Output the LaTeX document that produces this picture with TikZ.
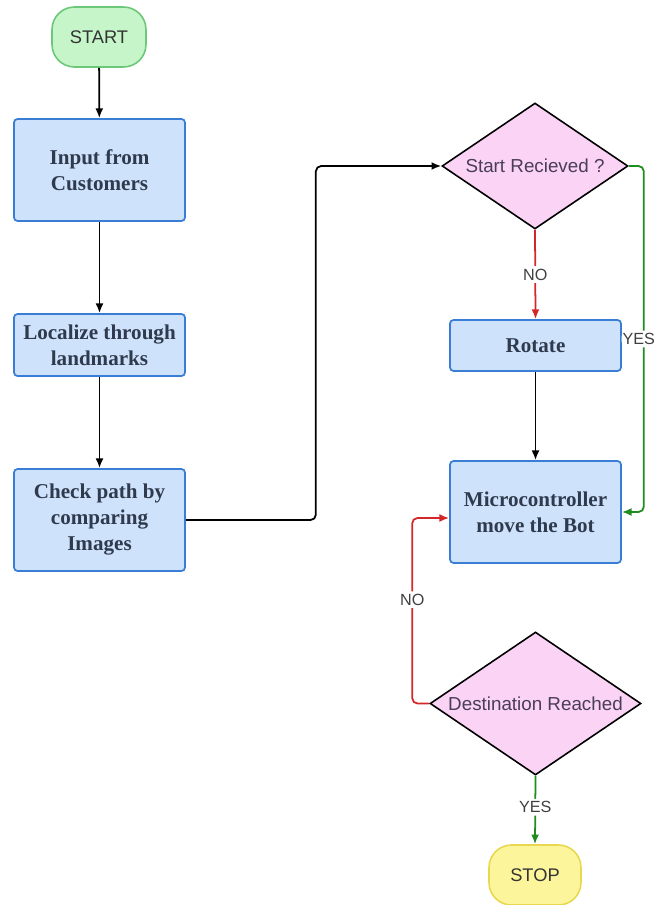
\documentclass[tikz,border=0pt]{standalone}
\usepackage{fontspec}
\setmainfont{Liberation Serif}
\setsansfont{Liberation Sans}
\usetikzlibrary{arrows.meta,shapes.geometric}
\definecolor{fcblue}{RGB}{207,226,252}
\definecolor{fcblueline}{RGB}{58,125,212}
\definecolor{fcpink}{RGB}{251,211,245}
\definecolor{fcgreen}{RGB}{197,245,200}
\definecolor{fcgreenline}{RGB}{108,200,120}
\definecolor{fcyellow}{RGB}{253,245,155}
\definecolor{fcyellowline}{RGB}{232,216,80}
\definecolor{fcred}{RGB}{212,40,40}
\definecolor{fcgo}{RGB}{30,140,30}
\definecolor{fctext}{RGB}{47,59,76}
\definecolor{fcdtext}{RGB}{74,61,88}

\begin{document}
\begin{tikzpicture}[x=.02cm,y=-.02cm,
    process/.style={draw=fcblueline,fill=fcblue,line width=1pt,rounded corners=2pt,minimum width=3.42cm,align=center,font=\fontsize{12}{14.8}\selectfont\bfseries,text=fctext},
    decision/.style={diamond,draw,fill=fcpink,line width=.9pt,inner sep=0pt,shape aspect=1.5,font=\sffamily\fontsize{10.7}{12}\selectfont,text=fcdtext},
    terminal/.style={rounded corners=.45cm,line width=.9pt,minimum height=1.2cm,font=\sffamily\fontsize{10.4}{12}\selectfont,text=black!80},
    flow/.style={line width=1pt,-{Latex[length=5.5pt,width=4.5pt]},rounded corners=3pt},
    lbl/.style={fill=white,inner sep=1.5pt,font=\sffamily\fontsize{9.2}{11}\selectfont,text=black!75}]
  \useasboundingbox (0,0) rectangle (657,905);
  \node[terminal,draw=fcgreenline,fill=fcgreen,minimum width=1.88cm] (start) at (99,37) {START};
  \node[process,minimum height=2.04cm] (input) at (99.5,170) {Input from\\Customers};
  \node[process,minimum height=1.24cm] (local) at (99.5,345) {Localize through\\landmarks};
  \node[process,minimum height=2.04cm] (check) at (99.5,520) {Check path by\\comparing\\Images};
  \node[decision,minimum width=3.72cm,minimum height=2.52cm] (recv) at (535,166) {Start Recieved ?};
  \node[process,minimum height=1.02cm] (rotate) at (535.5,345.5) {Rotate};
  \node[process,minimum height=2.04cm] (micro) at (535.5,512) {Microcontroller\\move the Bot};
  \node[decision,minimum width=4.22cm,minimum height=2.86cm] (dest) at (535.5,703.5) {Destination Reached};
  \node[terminal,draw=fcyellowline,fill=fcyellow,minimum width=1.84cm] (stop) at (535,875) {STOP};

  \draw[flow] (start) -- (input);
  \draw[flow] (input) -- (local);
  \draw[flow] (local) -- (check);
  \draw[flow] (check.east) -- ++(130,0) |- (recv.west);
  \draw[flow,fcred] (recv.south) -- node[lbl] {NO} (rotate.north);
  \draw[flow,fcgo] (recv.east) -- ++(15,0) |- node[lbl,pos=.25,xshift=-.1cm,inner xsep=.5pt] {YES} (micro.east);
  \draw[flow] (rotate) -- (micro);
  \draw[flow,fcred] (dest.west) -- ++(-17,0) |- node[lbl,pos=.28] {NO} ([yshift=-.12cm]micro.west);
  \draw[flow,fcgo] (dest.south) -- node[lbl,pos=.46] {YES} (stop.north);
\end{tikzpicture}
\end{document}
